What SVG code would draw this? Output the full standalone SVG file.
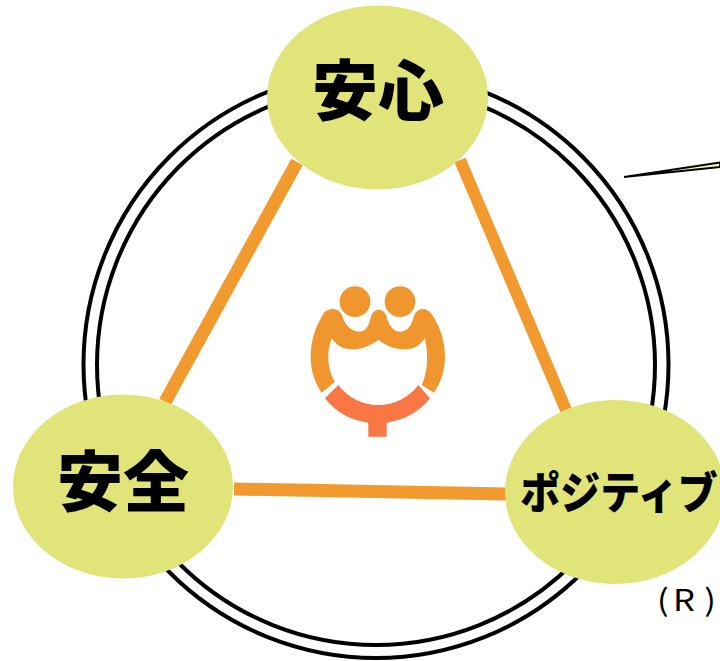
<svg xmlns="http://www.w3.org/2000/svg" width="720" height="661" viewBox="0 0 720 661">
<style>
.ring{fill:none;stroke:#000;stroke-width:4}
.link{stroke:#f29a2e;fill:none}
.node{fill:#e0e479}
.lbl{font-family:"Noto Sans CJK JP",sans-serif;font-weight:900;fill:#000;text-anchor:middle}
</style>
<rect width="720" height="661" fill="#fff"/>
<g id="rings">
<ellipse class="ring" cx="376" cy="364.5" rx="292.5" ry="293.5"/>
<ellipse class="ring" cx="376" cy="365" rx="279" ry="280"/>
</g>
<g id="connectors">
<line class="link" stroke-width="13" x1="297" y1="162" x2="165" y2="402"/>
<line class="link" stroke-width="12" x1="460" y1="160" x2="566" y2="410"/>
<line class="link" stroke-width="13" x1="234" y1="489" x2="507" y2="494"/>
</g>
<g id="callout">
<polygon points="624,177 720,162.500 720,167" fill="#fdf7b0" stroke="#000" stroke-width="1.800" stroke-linejoin="miter"/>
</g>
<g id="node-anshin">
<ellipse class="node" cx="377.500" cy="97.500" rx="110.500" ry="92"/>
<text class="lbl" x="378" y="115" font-size="66">安心</text>
</g>
<g id="node-anzen">
<ellipse class="node" cx="123" cy="486.500" rx="110" ry="92"/>
<text class="lbl" x="123" y="506" font-size="66">安全</text>
</g>
<g id="node-positive">
<ellipse class="node" cx="615" cy="492" rx="110" ry="92"/>
<text class="lbl" font-size="40" transform="translate(619 508.500) scale(1 1.120)">ポジティブ</text>
</g>
<g id="logo" transform="translate(280 270) scale(.3333)">
<circle cx="225" cy="95" r="46" fill="#f0962e"/>
<circle cx="360" cy="95" r="46" fill="#f0962e"/>
<path fill="#f0962e" d="M125 368C100 330 92 295 92 260C92 205 112 160 132 128C150 110 178 115 186 135C192 160 210 185 240 185C262 182 268 160 273 140C280 112 312 112 320 140C326 165 340 185 360 185C382 185 396 165 401 140C410 112 438 110 453 130C478 165 495 210 495 260C495 295 485 335 462 368L425 345C437 320 442 290 441 260C441 240 438 220 435 205C420 225 405 238 375 238C345 238 320 228 295 210C270 228 245 238 215 238C185 238 170 225 155 205C148 225 145 240 145 260C145 290 152 315 165 335Z"/>
<path fill="#f87745" d="M135 385L175 345C205 385 250 405 295 405C340 405 385 385 415 345L450 385C415 430 370 450 320 458V500H265V458C215 452 170 430 135 385Z"/>
</g>
<g id="mark">
<text transform="translate(657 611) scale(1.150 1)" x="0 14 41" y="0" font-family="'Noto Sans CJK JP',sans-serif" font-size="30" fill="#000">(R)</text>
</g>
</svg>
